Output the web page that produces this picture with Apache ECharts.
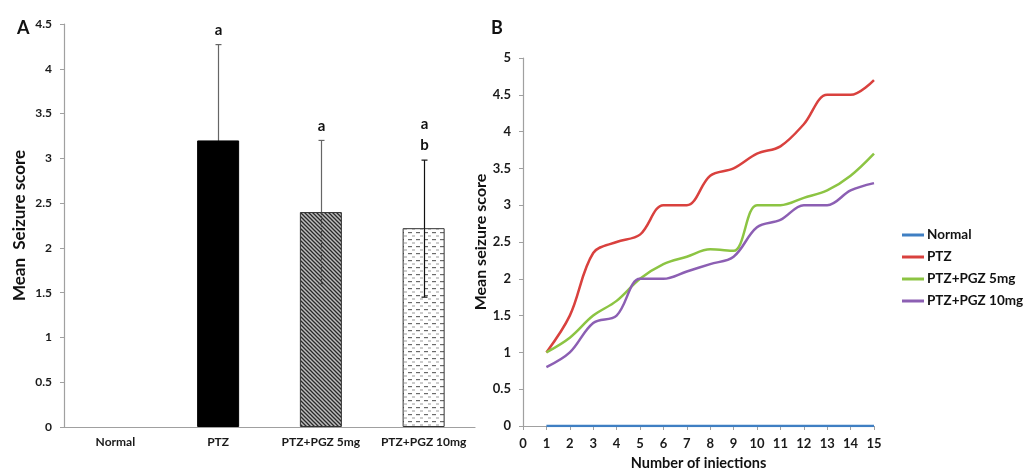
<!DOCTYPE html>
<html>
<head>
<meta charset="utf-8">
<script src="https://cdn.jsdelivr.net/npm/echarts@6/dist/echarts.min.js"></script>
<style>
  html, body { margin: 0; padding: 0; background: #fff; }
  #chart { width: 1026px; height: 468px; }
</style>
</head>
<body>
<div id="chart"></div>
<script>
// panel A - bar chart
var groups = ['Normal', 'PTZ', 'PTZ+PGZ 5mg', 'PTZ+PGZ 10mg'];
var meanScore = [0, 3.2, 2.4, 2.22];
var errLow = [0, 2.13, 1.6, 1.45];
var errHigh = [0, 4.27, 3.2, 2.98];
var sigLetters = ['', 'a', 'a', 'a\nb'];
var yTicksA = ['0', '0.5', '1', '1.5', '2', '2.5', '3', '3.5', '4', '4.5'];

// panel B - line chart
var injections = [1, 2, 3, 4, 5, 6, 7, 8, 9, 10, 11, 12, 13, 14, 15];
var normalScore = [0, 0, 0, 0, 0, 0, 0, 0, 0, 0, 0, 0, 0, 0, 0];
var ptzScore = [1, 1.5, 2.35, 2.5, 2.6, 3.0, 3.0, 3.4, 3.5, 3.7, 3.8, 4.1, 4.5, 4.5, 4.7];
var pgz5Score = [1, 1.2, 1.5, 1.7, 2.0, 2.2, 2.3, 2.4, 2.38, 3.0, 3.0, 3.1, 3.2, 3.4, 3.7];
var pgz10Score = [0.8, 1.0, 1.4, 1.5, 2.0, 2.0, 2.1, 2.2, 2.3, 2.7, 2.8, 3.0, 3.0, 3.2, 3.3];

var font = 'Lato, "Open Sans", sans-serif';

//斜线填充
function hatchPattern() {
    var c = document.createElement('canvas');
    c.width = 4; c.height = 4;
    var ctx = c.getContext('2d');
    ctx.fillStyle = '#bdbdbd';
    ctx.fillRect(0, 0, 4, 4);
    ctx.strokeStyle = '#2a2a2a';
    ctx.lineWidth = 1.3;
    ctx.beginPath();
    ctx.moveTo(-1, -1); ctx.lineTo(5, 5);
    ctx.moveTo(-1, 3); ctx.lineTo(1, 5);
    ctx.moveTo(3, -1); ctx.lineTo(5, 1);
    ctx.stroke();
    return c;
}
//虚线填充
function dashPattern() {
    var c = document.createElement('canvas');
    c.width = 8; c.height = 7;
    var ctx = c.getContext('2d');
    ctx.fillStyle = '#ffffff';
    ctx.fillRect(0, 0, 8, 7);
    ctx.fillStyle = '#6a6a6a';
    ctx.fillRect(0, 1, 4, 1.2);
    ctx.fillStyle = '#9a9a9a';
    ctx.fillRect(4, 4.5, 3, 1);
    return c;
}

var barColors = ['#000', '#000', {image: hatchPattern(), repeat: 'repeat'}, {image: dashPattern(), repeat: 'repeat'}];
var barBorders = ['#000', '#000', '#333', '#333'];
//误差线下半段颜色
var lowerErrColors = ['#000', '#000', '#444', '#111'];

var chart = echarts.init(document.getElementById('chart'));

var tickLabel = {fontFamily: font, fontWeight: 'bold', fontSize: 12, color: '#1a1a1a'};

function lineSeries(name, values, color) {
    return {
        name: name, type: 'line', xAxisIndex: 1, yAxisIndex: 1,
        smooth: 0.35, smoothConstraint: false, showSymbol: false,
        data: injections.map(function (x, i) { return [x, values[i]]; }),
        color: color, lineStyle: {width: 2.5}
    };
}

var option = {
    animation: false,
    textStyle: {fontFamily: font},
    title: [
        {text: 'A', left: 12, top: 14, textStyle: {fontFamily: font, fontSize: 18, fontWeight: 'bold', color: '#111'}},
        {text: 'B', left: 486, top: 14, textStyle: {fontFamily: font, fontSize: 18, fontWeight: 'bold', color: '#111'}}
    ],
    legend: {
        orient: 'vertical',
        left: 897,
        top: 223,
        itemWidth: 22,
        itemHeight: 3,
        itemGap: 8,
        icon: 'rect',
        data: ['Normal', 'PTZ', 'PTZ+PGZ 5mg', 'PTZ+PGZ 10mg'],
        textStyle: {fontFamily: font, fontWeight: 'bold', fontSize: 13.5, lineHeight: 14, color: '#111', padding: [0, 0, 0, -2]}
    },
    grid: [
        {left: 64, top: 24, width: 411, bottom: 41, outerBoundsMode: 'none'},
        {left: 523, top: 58, width: 351, bottom: 42, outerBoundsMode: 'none'}
    ],
    xAxis: [
        {
            gridIndex: 0, type: 'category', data: groups,
            axisLine: {lineStyle: {color: '#a0a0a0', width: 1.2}},
            axisTick: {show: false},
            axisLabel: Object.assign({margin: 9, interval: 0}, tickLabel)
        },
        {
            gridIndex: 1, type: 'value', min: 0, max: 15, interval: 1,
            name: 'Number of injections', nameLocation: 'middle', nameGap: 30,
            nameTextStyle: {fontFamily: font, fontWeight: 'bold', fontSize: 14.5, color: '#111'},
            axisLine: {lineStyle: {color: '#a0a0a0', width: 1.2}},
            axisTick: {show: true, length: 4, inside: false, lineStyle: {color: '#a0a0a0'}},
            splitLine: {show: false},
            axisLabel: Object.assign({}, tickLabel, {fontSize: 13, margin: 11})
        }
    ],
    yAxis: [
        {
            gridIndex: 0, type: 'value', min: 0, max: 4.5, interval: 0.5,
            name: 'Mean  Seizure score', nameLocation: 'middle', nameGap: 36,
            nameTextStyle: {fontFamily: font, fontWeight: 'bold', fontSize: 17, color: '#111'},
            axisLine: {show: true, lineStyle: {color: '#a0a0a0', width: 1.2}},
            axisTick: {show: true, length: 4, lineStyle: {color: '#a0a0a0'}},
            splitLine: {show: false},
            axisLabel: Object.assign({}, tickLabel, {margin: 12, formatter: function (v) { return yTicksA[Math.round(v * 2)]; }})
        },
        {
            gridIndex: 1, type: 'value', min: 0, max: 5, interval: 0.5,
            name: 'Mean seizure score', nameLocation: 'middle', nameGap: 34,
            nameTextStyle: {fontFamily: font, fontWeight: 'bold', fontSize: 16, color: '#111'},
            axisLine: {show: true, lineStyle: {color: '#a0a0a0', width: 1.2}},
            axisTick: {show: true, length: 4, lineStyle: {color: '#a0a0a0'}},
            splitLine: {show: false},
            axisLabel: Object.assign({}, tickLabel, {fontSize: 13, margin: 12})
        }
    ],
    series: [
        {
            type: 'bar', xAxisIndex: 0, yAxisIndex: 0, barWidth: 42,
            data: meanScore.map(function (v, i) {
                return {value: v, itemStyle: {color: barColors[i], borderColor: barBorders[i], borderWidth: v > 0 ? 1 : 0}};
            })
        },
        {
            //误差线和字母
            type: 'custom', xAxisIndex: 0, yAxisIndex: 0, z: 5,
            data: groups.map(function (g, i) { return [i, errLow[i], errHigh[i], meanScore[i]]; }),
            renderItem: function (params, api) {
                var i = api.value(0);
                if (api.value(2) <= 0) return null;
                var lo = api.coord([i, api.value(1)]);
                var hi = api.coord([i, api.value(2)]);
                var mid = api.coord([i, api.value(3)]);
                var x = Math.round(hi[0]) + 0.5;
                var st = {stroke: i === 3 ? '#111' : '#666', lineWidth: 1.2};
                var stLow = {stroke: lowerErrColors[i], lineWidth: 1.2, lineDash: i === 2 ? [2, 1] : null};
                return {
                    type: 'group',
                    children: [
                        {type: 'line', shape: {x1: x, y1: mid[1], x2: x, y2: hi[1]}, style: st},
                        {type: 'line', shape: {x1: x, y1: lo[1], x2: x, y2: mid[1]}, style: stLow},
                        {type: 'line', shape: {x1: x - 3, y1: hi[1], x2: x + 3, y2: hi[1]}, style: st},
                        {type: 'line', shape: {x1: x - 3, y1: lo[1], x2: x + 3, y2: lo[1]}, style: stLow},
                        {type: 'text', x: x, y: hi[1] - 4, style: {
                            text: sigLetters[i], fill: '#111', font: 'bold 15px ' + font,
                            textAlign: 'center', textVerticalAlign: 'bottom', lineHeight: 21
                        }}
                    ]
                };
            }
        },
        lineSeries('Normal', normalScore, '#3f7fc3'),
        lineSeries('PTZ', ptzScore, '#d9413e'),
        lineSeries('PTZ+PGZ 5mg', pgz5Score, '#8cc443'),
        lineSeries('PTZ+PGZ 10mg', pgz10Score, '#8c5fb3')
    ]
};

chart.setOption(option);
</script>
</body>
</html>
